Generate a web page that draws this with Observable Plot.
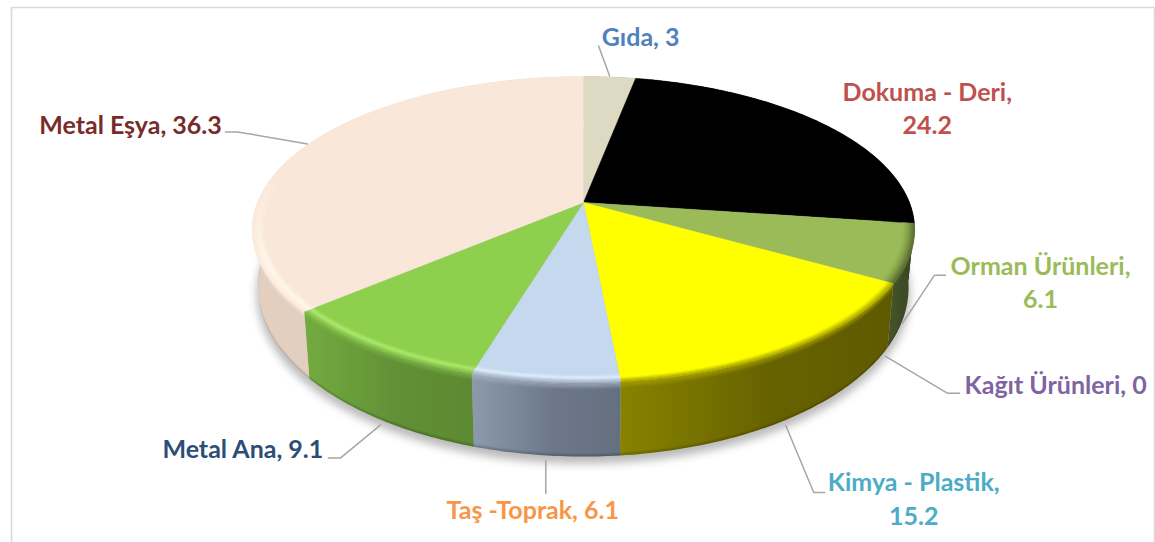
<!DOCTYPE html>
<html><head><meta charset="utf-8">
<style>html,body{margin:0;padding:0;background:#fff}svg{display:block}</style>
<script src="https://cdn.jsdelivr.net/npm/d3@7"></script>
<script src="https://cdn.jsdelivr.net/npm/@observablehq/plot@0.6"></script>
</head><body><div id="chart"></div>
<script>
// ---- data ----
const categories = ["Gıda","Dokuma - Deri","Orman Ürünleri","Kağıt Ürünleri","Kimya - Plastik","Taş -Toprak","Metal Ana","Metal Eşya"];
const values = [3,24.2,6.1,0,15.2,6.1,9.1,36.3];
const wrapLabel = [false,true,true,false,true,false,false,false];

// ---- styles ----
const labelColors = ["#4F81BD","#C0504D","#9BBB59","#8064A2","#4BACC6","#F79646","#2C4D75","#772C2A"];
const faceColors = ["#DDD9C3","#000000","#9BBB59","#8064A2","#FFFF00","#C4D8EE","#8FCF4E","#F9E8DA"];
const wallStart = ["#B0AD9C","#000000","#46552A","#5A4672","#888200","#8C9AAE","#73AB40","#E2CFC0"];
const wallEnd = ["#8A8779","#000000","#3C4A24","#463758","#5F5A00","#647080","#5D8932","#E2CFC0"];
const rimLight = [null,null,"#86A24C","#8064A2","#FFFF00","#E0EEFF","#AEEC6D","#FFF8EC"];
const rimEdge = [null,null,"#55662F","#5A4672","#A8A300","#A3B1C3","#7FB84A","#FBEBDD"];

// ---- layout ----
const W = 1155, H = 542;
const persp = 0.176;
const rimFadeStart = 0.70, rimStop = 0.78;
const topSurface = {cx:583, cy:202, a:326, b:148.2};
const baseSurface = {cx:583, cy:257.5, a:320, b:163.6};
// offsets from each slice's rim anchor
const labelOffsets = [[31,-42],[103.5,-17],[136,-33],[168,36],[127,78],[-13,53],[-136.5,28],[-177,-22]];
const leaderOffsets = [
  [[0,-1],[-11,-31]], null, [[-2,9],[30,-39],[41,-39]], [[-2,9],[60,46],[72,46]],
  [[-1,6],[27,73],[38,73]], [[0,5],[0,38]], [[1,6],[-39,39],[-51,39]], [[0,-1],[-70,-13],[-82,-13]]
];
const anchorOnBase = [false,false,true,true,true,true,true,false];

// ---- geometry derived from the values ----
const total = d3.sum(values);
const cum = d3.cumsum(values);
const slices = values.map((v,i)=>({i, start:(cum[i]-v)/total, end:cum[i]/total}));
function P(frac, r, h){
  const t = frac*2*Math.PI, u = Math.sin(t)*r, v = -Math.cos(t)*r, d = 1-persp*v;
  const l = (k)=>topSurface[k]+(baseSurface[k]-topSurface[k])*h;
  return [l("cx")+l("a")*u/d, l("cy")+l("b")*v/d];
}
const arc = (a,b,r,h)=>{
  const n = Math.max(2,Math.ceil((b-a)*400));
  return d3.range(n+1).map(j=>P(a+(b-a)*j/n,r,h));
};
const bandAB = (a,b,r0,h0,r1,h1)=>[...arc(a,b,r0,h0),...arc(a,b,r1,h1).reverse()];
const band = (s,r0,h0,r1,h1)=>bandAB(s.start,s.end,r0,h0,r1,h1);
const poly = (pts,opts)=>Plot.line(pts,{x:"0",y:"1",stroke:"none",...opts});
const solid = (pts,color)=>poly(pts,{fill:color,stroke:color,strokeWidth:0.4});

const defs = ()=>{
  const d = d3.create("svg:defs");
  slices.forEach(s=>{
    const g = d.append("linearGradient").attr("id",`wall${s.i}`);
    g.append("stop").attr("offset","0").attr("stop-color",wallStart[s.i]);
    g.append("stop").attr("offset","0.55").attr("stop-color",d3.interpolateRgb(wallStart[s.i],wallEnd[s.i])(0.8));
    g.append("stop").attr("offset","1").attr("stop-color",wallEnd[s.i]);
  });
  return d.node();
};

const visible = slices.filter(s=>s.end>s.start);
const marks = [defs];

// frame
marks.push(Plot.line([[11,H],[11,7],[1154,7],[1154,H]],{x:"0",y:"1",stroke:"#D9D9D9",strokeWidth:1.6,strokeLinejoin:"miter"}));

// drop shadow
marks.push(poly(arc(0,1,1.005,1),{fill:"#000",fillOpacity:0.27,dy:6,imageFilter:"blur(4px)"}));

// outer walls
visible.forEach(s=>marks.push(poly(band(s,1,0,1,1),{fill:`url(#wall${s.i})`})));

// dark lower lip of the wall
visible.forEach(s=>{
  d3.range(4).forEach(j=>marks.push(poly(band(s,1,0.955+j*0.01125,1,0.955+(j+1)*0.01125),{fill:"#000",fillOpacity:0.05+j*0.05})));
});

// top faces (full radius; the rim is painted over the front part)
visible.forEach(s=>marks.push(solid([P(0,0,0),...arc(s.start,s.end,1,0)],faceColors[s.i])));

// rounded upper rim fading into the wall
const hSteps = 6, rSteps = 4, fadeSteps = 8;
visible.filter(s=>rimLight[s.i]).forEach(s=>{
  const a = s.start, b = Math.min(s.end,rimStop);
  d3.range(hSteps).forEach(j=>{
    const h0=0.1*j/hSteps, h1=0.1*(j+1)/hSteps;
    marks.push(poly(bandAB(a,b,1,h0,1,h1),{fill:rimEdge[s.i],fillOpacity:1-(j+0.5)/hSteps}));
  });
  const mix1 = d3.interpolateRgb(faceColors[s.i],rimLight[s.i]);
  const mix2 = d3.interpolateRgb(rimLight[s.i],rimEdge[s.i]);
  d3.range(rSteps).forEach(j=>{
    const r0=0.965+0.015*j/rSteps, r1=0.965+0.015*(j+1)/rSteps;
    marks.push(solid(bandAB(a,b,r0,0,r1,0),mix1((j+0.5)/rSteps)));
  });
  d3.range(rSteps).forEach(j=>{
    const r0=0.98+0.02*j/rSteps, r1=0.98+0.02*(j+1)/rSteps;
    marks.push(solid(bandAB(a,b,r0,0,r1,0),mix2((j+0.5)/rSteps)));
  });
  // the rim dies away towards the back of the pie
  if (s.end > rimStop) {
    d3.range(fadeSteps).forEach(j=>{
      const f0=rimFadeStart+(rimStop-rimFadeStart)*j/fadeSteps, f1=rimFadeStart+(rimStop-rimFadeStart)*(j+1)/fadeSteps;
      marks.push(poly(bandAB(f0,f1,0.96,0,1,0),{fill:faceColors[s.i],fillOpacity:(j+1)/fadeSteps}));
    });
  }
});

// leader lines and labels
const anchors = slices.map(s=>P((s.start+s.end)/2,1,anchorOnBase[s.i]?1:0));
leaderOffsets.forEach((off,i)=>{
  if(!off) return;
  marks.push(Plot.line(off.map(o=>[anchors[i][0]+o[0],anchors[i][1]+o[1]]),{x:"0",y:"1",stroke:"#A6A6A6",strokeWidth:1.5}));
});
const labelRows = slices.map(s=>({
  text:`${categories[s.i]},${wrapLabel[s.i]?"\n":" "}${values[s.i]}`,
  x:anchors[s.i][0]+labelOffsets[s.i][0],
  y:anchors[s.i][1]+labelOffsets[s.i][1],
  color:labelColors[s.i]
}));
labelRows.forEach(d=>marks.push(Plot.text([d],{x:"x",y:"y",text:"text",fill:d.color,fontFamily:"Lato, Carlito, sans-serif",fontWeight:"bold",fontSize:25,lineHeight:1.33,textAnchor:"middle",lineAnchor:"middle"})));

const chart = Plot.plot({
  width:W,height:H,margin:0,
  x:{domain:[0,W],range:[0,W],axis:null},
  y:{domain:[0,H],range:[0,H],axis:null},
  style:{background:"#fff"},
  marks
});
document.getElementById("chart").append(chart);
</script></body></html>
